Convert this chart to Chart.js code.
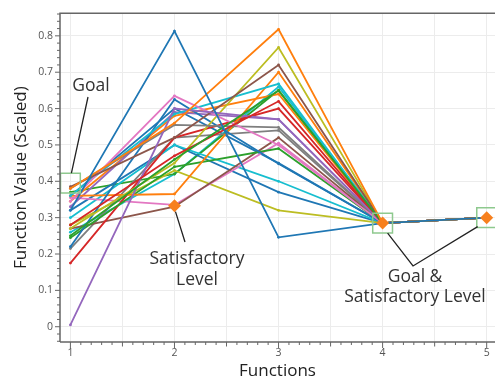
<!DOCTYPE html>
<html lang="en">
<head>
  <meta charset="UTF-8">
  <title>Function values</title>
  <script src="https://cdn.jsdelivr.net/npm/chart.js"></script>
  <style>
    html, body { margin: 0; padding: 0; background: #fff; }
    #wrap { width: 495px; height: 381px; position: relative; }
  </style>
</head>
<body>
  <div id="wrap"><canvas id="fnChart"></canvas></div>
  <script>
    // objective functions on the x axis
    const functions = [1, 2, 3, 4, 5];
    const xTicks = [1, 1.5, 2, 2.5, 3, 3.5, 4, 4.5, 5];
    const yTicks = [0, 0.1, 0.2, 0.3, 0.4, 0.5, 0.6, 0.7, 0.8];

    // scaled value of each solution at functions 1..5
    const f1 = [0.32, 0.38, 0.25, 0.28, 0.005, 0.385, 0.345, 0.38, 0.27, 0.36, 0.22, 0.36, 0.245,
                0.175, 0.33, 0.27, 0.355, 0.215, 0.28, 0.30, 0.32, 0.345, 0.37, 0.26, 0.36];
    const f2 = [0.813, 0.56, 0.46, 0.47, 0.60, 0.52, 0.635, 0.555, 0.45, 0.585, 0.625, 0.365, 0.44,
                0.52, 0.59, 0.33, 0.335, 0.52, 0.43, 0.50, 0.50, 0.58, 0.42, 0.42, 0.60];
    const f3 = [0.246, 0.818, 0.65, 0.62, 0.57, 0.72, 0.50, 0.548, 0.768, 0.668, 0.448, 0.70, 0.49,
                0.60, 0.57, 0.52, 0.505, 0.54, 0.32, 0.40, 0.37, 0.64, 0.65, 0.66, 0.45];
    const f4 = [0.285, 0.285, 0.285, 0.285, 0.285, 0.285, 0.285, 0.285, 0.285, 0.285, 0.285, 0.285, 0.285,
                0.285, 0.285, 0.285, 0.285, 0.285, 0.285, 0.285, 0.285, 0.285, 0.285, 0.285, 0.285];
    const f5 = [0.30, 0.30, 0.30, 0.30, 0.30, 0.30, 0.30, 0.30, 0.30, 0.30, 0.30, 0.30, 0.30,
                0.30, 0.30, 0.30, 0.30, 0.30, 0.30, 0.30, 0.30, 0.30, 0.30, 0.30, 0.30];
    const lineColors = ['#1f77b4', '#ff7f0e', '#2ca02c', '#d62728', '#9467bd', '#8c564b', '#e377c2',
                        '#7f7f7f', '#bcbd22', '#17becf', '#1f77b4', '#ff7f0e', '#2ca02c', '#d62728',
                        '#9467bd', '#8c564b', '#e377c2', '#7f7f7f', '#bcbd22', '#17becf', '#1f77b4',
                        '#ff7f0e', '#2ca02c', '#17becf', '#1f77b4'];

    // goal and satisfactory level per function (null = not marked)
    const goal = [0.395, null, null, 0.285, 0.30];
    const satisfactory = [null, 0.333, null, 0.285, 0.30];

    const toPts = arr => functions.map((x, i) => ({ x, y: arr[i] })).filter(p => p.y !== null);

    const lineSets = f1.map((v, i) => ({
      data: toPts([f1[i], f2[i], f3[i], f4[i], f5[i]]),
      borderColor: lineColors[i],
      backgroundColor: lineColors[i],
      borderWidth: 1.8,
      pointRadius: 1.4,
      pointBorderWidth: 0,
      order: 2
    }));

    const markerSets = [
      {
        data: toPts(satisfactory), showLine: false, pointStyle: 'rectRot',
        pointRadius: 6.5, backgroundColor: '#f7801e', borderColor: '#f7801e', borderWidth: 0, order: 0
      },
      {
        data: toPts(goal), showLine: false, pointStyle: 'rect',
        pointRadius: 14, backgroundColor: 'rgba(255,255,255,0)', borderColor: '#8ec98e', borderWidth: 1.5, order: 1
      }
    ];

    const FONT = '"Open Sans", "DejaVu Sans", sans-serif';

    // frame, minor ticks and the callout labels
    const decor = {
      id: 'decor',
      afterDraw(chart) {
        const { ctx, chartArea: a, scales: { x, y } } = chart;
        ctx.save();
        ctx.strokeStyle = '#666';
        ctx.lineWidth = 1.5;
        ctx.beginPath();
        ctx.moveTo(a.left, a.bottom);
        ctx.lineTo(a.left, a.top);
        ctx.lineTo(a.right, a.top);
        ctx.moveTo(a.left, a.bottom);
        ctx.lineTo(a.right, a.bottom);
        ctx.stroke();

        ctx.lineWidth = 1;
        ctx.beginPath();
        for (let k = 10; k <= 50; k++) {
          const px = x.getPixelForValue(k / 10);
          const len = k % 10 === 0 ? 6 : (k % 5 === 0 ? 4.5 : 3);
          ctx.moveTo(px, a.bottom);
          ctx.lineTo(px, a.bottom + len);
        }
        for (let k = -2; k <= 43; k++) {
          const py = y.getPixelForValue(k / 50);
          const len = k % 5 === 0 ? 5 : 3;
          ctx.moveTo(a.left, py);
          ctx.lineTo(a.left - len, py);
        }
        ctx.stroke();

        // callouts
        ctx.strokeStyle = '#222';
        ctx.lineWidth = 1.3;
        const gx = x.getPixelForValue(1), gy = y.getPixelForValue(goal[0]);
        const sx = x.getPixelForValue(2), sy = y.getPixelForValue(satisfactory[1]);
        const x4 = x.getPixelForValue(4), y4 = y.getPixelForValue(goal[3]);
        const x5 = x.getPixelForValue(5), y5 = y.getPixelForValue(goal[4]);
        ctx.beginPath();
        ctx.moveTo(88, 97); ctx.lineTo(gx + 1, gy - 10);
        ctx.moveTo(sx + 1, sy + 6); ctx.lineTo(185, 242);
        ctx.moveTo(x4 + 5, y4 + 10); ctx.lineTo(413, 266); ctx.lineTo(x5 - 9, y5 + 9);
        ctx.stroke();

        ctx.fillStyle = '#333';
        ctx.font = '17.5px ' + FONT;
        ctx.textAlign = 'center';
        ctx.textBaseline = 'middle';
        ctx.fillText('Goal', 91, 86);
        ctx.fillText('Satisfactory', 197, 259);
        ctx.fillText('Level', 197, 280);
        ctx.fillText('Goal &', 415, 277);
        ctx.fillText('Satisfactory Level', 415, 297);
        ctx.restore();
      }
    };

    new Chart(document.getElementById('fnChart'), {
      type: 'line',
      data: { datasets: [...markerSets, ...lineSets] },
      options: {
        responsive: true,
        maintainAspectRatio: false,
        animation: false,
        layout: { autoPadding: false, padding: { top: 12, right: 0, left: 0, bottom: 0 } },
        plugins: { legend: { display: false }, tooltip: { enabled: false } },
        scales: {
          x: {
            type: 'linear',
            min: 0.9,
            max: 5.08,
            afterBuildTicks: s => { s.ticks = xTicks.map(v => ({ value: v })); },
            afterFit: s => { s.height = 39; },
            border: { display: false },
            grid: { color: '#ececec', drawTicks: false },
            ticks: {
              padding: 5,
              color: '#555',
              font: { family: FONT, size: 10.5 },
              maxRotation: 0,
              autoSkip: false,
              callback: v => Number.isInteger(v) ? String(v) : ''
            },
            title: {
              display: true,
              text: 'Functions',
              color: '#222',
              font: { family: FONT, size: 17 },
              padding: { top: 0, bottom: 0 }
            }
          },
          y: {
            min: -0.042,
            max: 0.862,
            afterBuildTicks: s => { s.ticks = yTicks.map(v => ({ value: v })); },
            afterFit: s => { s.width = 60; },
            border: { display: false },
            grid: { color: '#ececec', drawTicks: false },
            ticks: {
              padding: 7,
              color: '#555',
              font: { family: FONT, size: 10.5 },
              callback: v => v === 0 ? '0' : v.toFixed(1)
            },
            title: {
              display: true,
              text: 'Function Value (Scaled)',
              color: '#222',
              font: { family: FONT, size: 17 },
              padding: { top: 11, bottom: 0 }
            }
          }
        }
      },
      plugins: [decor]
    });
  </script>
</body>
</html>
